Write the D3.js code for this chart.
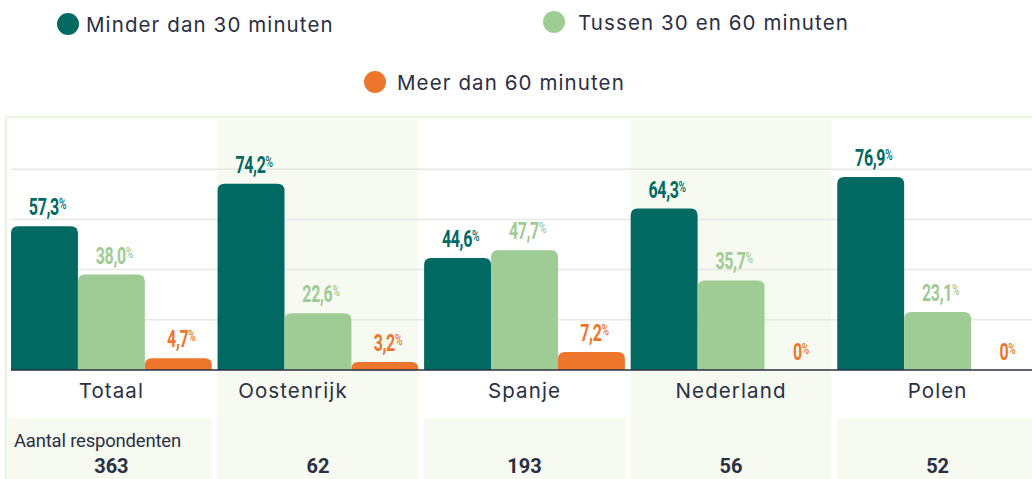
<!DOCTYPE html>
<html>
<head>
<meta charset="utf-8">
<script src="https://cdn.jsdelivr.net/npm/d3@7"></script>
<style>
  html, body { margin: 0; padding: 0; background: #fff; }
  svg { display: block; }
</style>
</head>
<body>
<div id="chart"></div>
<script>
const W = 1032, H = 479;

const CATEGORIES = ["Totaal", "Oostenrijk", "Spanje", "Nederland", "Polen"];
const SERIES = ["Minder dan 30 minuten", "Tussen 30 en 60 minuten", "Meer dan 60 minuten"];
const UNDER_30 = [57.3, 74.2, 44.6, 64.3, 76.9];
const BETWEEN_30_60 = [38.0, 22.6, 47.7, 35.7, 23.1];
const OVER_60 = [4.7, 3.2, 7.2, 0, 0];
const RESPONDENTS = [363, 62, 193, 56, 52];
const GRID_TICKS = [20, 40, 60, 80];

const color = d3.scaleOrdinal().domain(SERIES).range([
  "#006a62", // dark teal
  "#9fcb95", // soft green
  "#ed762c", // orange
]);

const TEXT = "#2b2f44";
const SHADE = "#f6faf0";
const BORDER = "#e9f6dd";
const nl = d3.formatLocale({ decimal: ",", thousands: ".", grouping: [3], currency: ["€", ""] });
const fmtPct = (v) => (v === 0 ? "0" : nl.format(".1f")(v));

const rows = CATEGORIES.map((cat, i) => ({
  cat,
  values: [UNDER_30[i], BETWEEN_30_60[i], OVER_60[i]].map((v, j) => ({ key: SERIES[j], value: v })),
  n: RESPONDENTS[i],
}));

const svg = d3.select("#chart").append("svg").attr("width", W).attr("height", H);

const x = d3.scaleBand().domain(CATEGORIES).range([11, 1038]).paddingInner(0.028);
const xs = d3.scaleBand().domain(SERIES).range([0, x.bandwidth()]);
const y = d3.scaleLinear().domain([0, 100]).range([370, 119]);

// legend (circle centre + gap to text)
const legendPos = [
  { x: 68, y: 24, dx: 18 },
  { x: 554, y: 22, dx: 24 },
  { x: 375, y: 82, dx: 22 },
];
const legend = svg.append("g").selectAll("g").data(SERIES).join("g")
  .attr("transform", (d, i) => `translate(${legendPos[i].x},${legendPos[i].y})`);
legend.append("circle").attr("r", 11).attr("fill", (d) => color(d));
legend.append("text")
  .attr("x", (d, i) => legendPos[i].dx).attr("y", 8)
  .attr("font-family", "Inter, 'DejaVu Sans', sans-serif")
  .attr("font-size", 20.5)
  .attr("letter-spacing", 1.1)
  .attr("fill", TEXT)
  .text((d) => d);

// frame + shaded columns
svg.append("rect").attr("x", 6).attr("y", 117).attr("width", W).attr("height", H)
  .attr("fill", "#fff").attr("stroke", BORDER).attr("stroke-width", 2.5);

svg.append("g").selectAll("rect").data(rows.filter((d, i) => i % 2 === 1)).join("rect")
  .attr("x", (d) => x(d.cat)).attr("y", 120)
  .attr("width", x.bandwidth()).attr("height", H - 120)
  .attr("fill", SHADE);

// respondents cells
svg.append("g").selectAll("rect").data(rows).join("rect")
  .attr("x", (d, i) => (i === 0 ? 8 : x(d.cat)))
  .attr("y", 418)
  .attr("width", (d, i) => (i === 0 ? x.bandwidth() + 3 : x.bandwidth()))
  .attr("height", H - 418)
  .attr("fill", SHADE);

// gridlines
svg.append("g").selectAll("line").data(GRID_TICKS).join("line")
  .attr("x1", 11).attr("x2", W)
  .attr("y1", (d) => y(d)).attr("y2", (d) => y(d))
  .attr("stroke", "#e6e8e6").attr("stroke-width", 1.5);

// bars with rounded tops
function barPath(x0, w, yTop, yBase, r) {
  const h = yBase - yTop;
  if (h <= 0) return "";
  r = Math.min(r, h, w / 2);
  return `M${x0},${yBase}V${yTop + r}Q${x0},${yTop} ${x0 + r},${yTop}H${x0 + w - r}` +
    `Q${x0 + w},${yTop} ${x0 + w},${yTop + r}V${yBase}Z`;
}

const group = svg.append("g").selectAll("g").data(rows).join("g")
  .attr("transform", (d) => `translate(${x(d.cat)},0)`);

group.selectAll("path").data((d) => d.values).join("path")
  .attr("d", (d) => barPath(xs(d.key), xs.bandwidth(), y(d.value), y(0), 7))
  .attr("fill", (d) => color(d.key));

const lbl = group.selectAll("text.val").data((d) => d.values).join("text")
  .attr("class", "val")
  .attr("transform", (d) => {
    const ty = d.value === 0 ? y(0) - 10 : y(d.value) - 11;
    return `translate(${xs(d.key) + xs.bandwidth() / 2 + 3},${ty}) scale(0.68,1)`;
  })
  .attr("text-anchor", "middle")
  .attr("font-family", "Roboto, sans-serif")
  .attr("font-weight", 700)
  .attr("font-size", 23.5)
  .attr("letter-spacing", -0.5)
  .attr("fill", (d) => color(d.key));
lbl.append("tspan").text((d) => fmtPct(d.value));
lbl.append("tspan").attr("font-size", 15).attr("font-weight", 500).attr("dy", -6).text("%");

// axis baseline
svg.append("line").attr("x1", 11).attr("x2", W).attr("y1", y(0)).attr("y2", y(0))
  .attr("stroke", TEXT).attr("stroke-width", 1.5);

// category labels (Oostenrijk sits left of centre in the original)
const labelShift = { Oostenrijk: -25 };
group.append("text")
  .attr("x", (d) => x.bandwidth() / 2 + (labelShift[d.cat] || 0)).attr("y", 398)
  .attr("text-anchor", "middle")
  .attr("font-family", "Inter, 'DejaVu Sans', sans-serif")
  .attr("font-size", 20.5)
  .attr("letter-spacing", 1.1)
  .attr("fill", TEXT)
  .text((d) => d.cat);

// respondents
svg.append("text")
  .attr("x", 14).attr("y", 447)
  .attr("font-family", "Roboto, sans-serif")
  .attr("font-size", 18.5)
  .attr("letter-spacing", -0.2)
  .attr("fill", TEXT)
  .text("Aantal respondenten");

group.append("text")
  .attr("x", x.bandwidth() / 2).attr("y", 473)
  .attr("text-anchor", "middle")
  .attr("font-family", "Roboto, sans-serif")
  .attr("font-weight", 700)
  .attr("font-size", 20)
  .attr("fill", TEXT)
  .text((d) => d.n);
</script>
</body>
</html>
